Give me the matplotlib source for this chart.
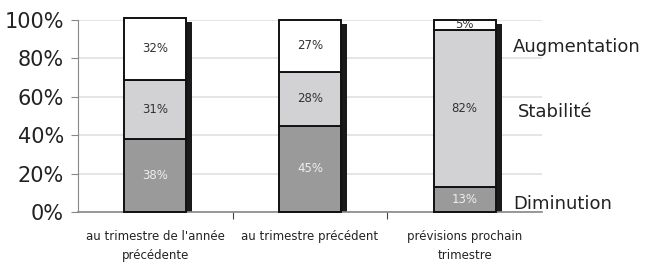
import matplotlib.pyplot as plt
import numpy as np

categories = ["au trimestre de l'année\nprécédente", "au trimestre précédent",
              "prévisions prochain\ntrimestre"]
diminution = [38, 45, 13]
stabilite = [31, 28, 82]
augmentation = [32, 27, 5]
series_names = ["Diminution", "Stabilité", "Augmentation"]
yticks = [0, 20, 40, 60, 80, 100]

colors = ["#9a9a9a", "#d2d2d4", "#ffffff"]
text_colors = ["#eeeeee", "#333333", "#333333"]

fig = plt.figure(figsize=(6.61, 2.64), dpi=100)
ax = fig.add_axes([0.118, 0.197, 0.702, 0.727])

x = np.arange(len(categories))
width = 0.4
series = [diminution, stabilite, augmentation]
totals = np.sum(series, axis=0)

# dark drop shadow behind each stack
ax.bar(x + 0.04, totals - 2, width, color="#1a1a1a", zorder=2)

bottom = np.zeros(len(categories))
for vals, col, tcol in zip(series, colors, text_colors):
    bars = ax.bar(x, vals, width, bottom=bottom, color=col, edgecolor="#111111",
                  linewidth=1.4, zorder=3)
    for b in bars:
        b.set_clip_on(False)
    for xi, b, v in zip(x, bottom, vals):
        ax.text(xi, b + v / 2, f"{v}%", ha="center", va="center",
                fontsize=8.5, color=tcol, zorder=4)
    bottom += vals

ax.set_xlim(-0.5, 2.5)
ax.set_ylim(0, 100)
ax.set_yticks(yticks)
ax.set_yticklabels([f"{t}%" for t in yticks], fontsize=15, color="#222222")
ax.yaxis.grid(True, color="#e0e0e0", linewidth=1.2, zorder=0)
ax.set_axisbelow(True)

ax.set_xticks([0.5, 1.5])
ax.set_xticks(x, minor=True)
ax.set_xticklabels([])
ax.set_xticklabels(categories, minor=True, fontsize=8.5, linespacing=1.55,
                   color="#222222")
ax.tick_params(axis="x", which="minor", length=0, pad=13)
ax.tick_params(axis="x", which="major", length=5, color="#444444", direction="out")
ax.tick_params(axis="y", length=5, color="#888888", pad=5)

for s in ["top", "right"]:
    ax.spines[s].set_visible(False)
ax.spines["left"].set_color("#888888")
ax.spines["bottom"].set_color("#888888")
ax.spines["bottom"].set_linewidth(1.2)

# series names on the right
label_pos = {"Diminution": (0.776, 4), "Stabilité": (0.783, 52),
             "Augmentation": (0.776, 86)}
for name in series_names:
    lx, ly = label_pos[name]
    fig.text(lx, ax.transData.transform((0, ly))[1] / fig.bbox.height,
             name, fontsize=13, va="center", ha="left", color="#222222")

fig.savefig("out.png", dpi=100)
